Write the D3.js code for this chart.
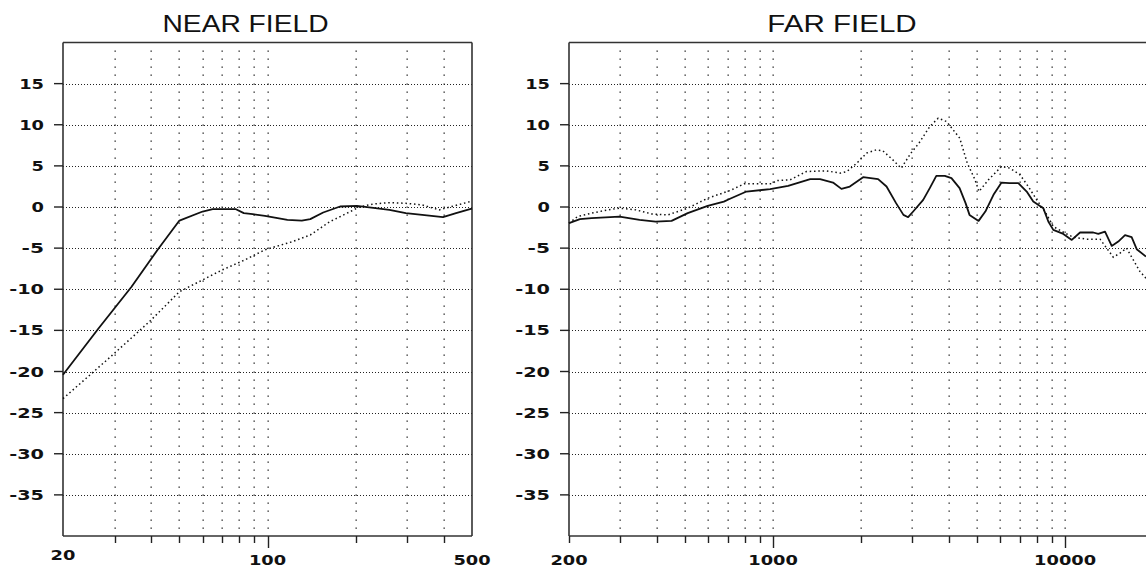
<!DOCTYPE html>
<html><head><meta charset="utf-8">
<script src="https://cdn.jsdelivr.net/npm/d3@7"></script>
<style>html,body{margin:0;padding:0;background:#fff;overflow:hidden}</style>
</head><body>
<svg id="chart" width="1146" height="567"></svg>
<script>
// ---------- data ----------
const nearTitle = "NEAR FIELD";
const farTitle = "FAR FIELD";
const yTickValues = [15,10,5,0,-5,-10,-15,-20,-25,-30,-35];
const nearGridFreqs = [30,40,50,60,70,80,90,100,200,300,400];
const farGridFreqs = [300,400,500,600,700,800,900,1000,2000,3000,4000,5000,6000,7000,8000,9000,10000];
const nearLabelFreqs = [20,100,500];
const farLabelFreqs = [200,1000,10000];
const nearMajorTicks = [100];
const farMajorTicks = [1000,10000];

const nearSolid = [[20,-20.4],[26.4,-14.8],[34.3,-9.7],[42.3,-5.1],[50,-1.65],[60,-0.55],[65,-0.27],[78,-0.27],[83,-0.75],[89,-0.87],[98,-1.07],[117,-1.56],[131,-1.65],[140,-1.47],[155,-0.67],[177,0.06],[202,0.14],[230,-0.1],[261,-0.35],[297,-0.75],[338,-0.96],[398,-1.24],[441,-0.75],[492,-0.27],[500,-0.2]];
const nearDotted = [[20,-23.3],[24.4,-20.6],[29.3,-18.1],[39.6,-13.9],[50,-10.3],[70,-7.65],[84,-6.4],[98,-5.2],[122,-4.2],[140,-3.4],[163,-1.8],[187,-0.75],[206,0],[230,0.37],[261,0.53],[297,0.45],[338,0.25],[386,-0.35],[420,0],[492,0.65],[500,0.7]];
const farSolid = [[200,-1.97],[218,-1.48],[239,-1.36],[298,-1.16],[349,-1.56],[396,-1.77],[449,-1.69],[510,-0.75],[597,0.14],[678,0.66],[712,1.0],[811,1.88],[977,2.17],[1126,2.57],[1340,3.39],[1448,3.39],[1604,2.97],[1714,2.2],[1831,2.49],[2034,3.63],[2289,3.39],[2446,2.49],[2637,0.47],[2795,-0.96],[2900,-1.24],[3018,-0.55],[3266,0.87],[3440,2.29],[3622,3.79],[3872,3.79],[4081,3.51],[4352,2.29],[4562,0.47],[4706,-0.96],[5055,-1.69],[5332,-0.55],[5685,1.48],[6059,2.97],[6445,2.9],[6915,2.9],[7387,1.88],[7780,0.66],[8420,-0.14],[8760,-1.77],[9112,-2.78],[9860,-3.27],[10540,-4.0],[11250,-3.1],[12490,-3.1],[12990,-3.27],[13700,-2.99],[14440,-4.73],[15210,-4.2],[16040,-3.43],[16900,-3.67],[17590,-5.13],[18920,-6.02]];
const farDotted = [[200,-1.97],[214,-1.16],[239,-0.75],[272,-0.35],[298,-0.14],[339,-0.35],[384,-0.84],[436,-0.96],[510,-0.14],[597,1.07],[712,2.0],[797,2.82],[989,2.82],[1029,3.22],[1143,3.3],[1300,4.31],[1520,4.4],[1696,4.12],[1789,4.31],[1935,5.33],[2090,6.55],[2257,6.95],[2376,6.83],[2571,5.73],[2746,4.72],[2965,6.55],[3160,7.77],[3440,9.78],[3676,10.8],[3924,10.4],[4357,8.37],[4624,5.33],[4917,3.3],[5071,1.88],[5460,3.3],[6059,4.92],[6476,4.72],[7008,3.91],[7482,2.49],[7994,0.87],[8534,-0.55],[9112,-2.37],[9990,-3.18],[10670,-3.67],[11860,-3.91],[13170,-3.91],[13880,-5.0],[14620,-6.1],[15420,-5.61],[16230,-5.0],[17120,-6.43],[18050,-7.85],[18920,-8.66]];

// ---------- drawing ----------
const svg = d3.select("#chart");
const y = d3.scaleLinear().domain([-40,20]).range([536,42.5]);
const labelFont = "'DejaVu Sans', sans-serif";

function textLen(s){ let w=0; for(const c of s){ w += (c==='-') ? 10 : 12.4; } return w; }

function panel(opts){
  const {x, title, titleX, gridFreqs, labelFreqs, majorTicks, series, leftTickAt, drawRight} = opts;
  const [x0,x1] = x.range();
  const g = svg.append("g");

  // horizontal dotted grid
  g.selectAll(".hg").data(yTickValues).join("line")
    .attr("x1", x0).attr("x2", Math.min(x1, 1146))
    .attr("y1", d=>Math.round(y(d))+0.5).attr("y2", d=>Math.round(y(d))+0.5)
    .attr("stroke","#222").attr("stroke-width",1).attr("stroke-dasharray","1,2");

  // vertical dotted grid: a dot at every 1 dB
  const dbLevels = d3.range(-39,20);
  const dots = [];
  gridFreqs.forEach(f=>dbLevels.forEach(v=>dots.push([f,v])));
  g.selectAll(".vd").data(dots).join("rect")
    .attr("x", d=>Math.round(x(d[0]))-0.5).attr("y", d=>Math.round(y(d[1]))-0.5)
    .attr("width",1.3).attr("height",1.3).attr("fill","#222");

  // frame
  const fr = g.append("g").attr("stroke","#333").attr("stroke-width",1.6).attr("fill","none");
  fr.append("line").attr("x1",x0).attr("x2",x0).attr("y1",y(20)).attr("y2",y(-40));
  fr.append("line").attr("x1",x0).attr("x2",x1).attr("y1",y(20)).attr("y2",y(20));
  fr.append("line").attr("x1",x0).attr("x2",x1).attr("y1",y(-40)).attr("y2",y(-40));
  if(drawRight) fr.append("line").attr("x1",x1).attr("x2",x1).attr("y1",y(20)).attr("y2",y(-40));

  // y ticks + labels
  g.selectAll(".yt").data(yTickValues).join("line")
    .attr("x1",x0-9).attr("x2",x0).attr("y1",d=>y(d)).attr("y2",d=>y(d))
    .attr("stroke","#222").attr("stroke-width",1.4);
  g.selectAll(".yl").data(yTickValues).join("text")
    .attr("x",x0-19).attr("y",d=>y(d)+5)
    .attr("text-anchor","end").attr("font-family",labelFont).attr("font-weight","bold")
    .attr("font-size","13.5px").attr("fill","#111")
    .attr("textLength",d=>textLen(String(d))).attr("lengthAdjust","spacingAndGlyphs")
    .text(d=>String(d));

  // x ticks (below axis)
  const tickFreqs = (leftTickAt ? [x.domain()[0]] : []).concat(gridFreqs);
  g.selectAll(".xt").data(tickFreqs).join("line")
    .attr("x1",d=>Math.round(x(d))+0.5).attr("x2",d=>Math.round(x(d))+0.5)
    .attr("y1",y(-40)).attr("y2",d=>y(-40)+(majorTicks.includes(d)?12:7))
    .attr("stroke","#222").attr("stroke-width",1.4);

  // x labels
  g.selectAll(".xl").data(labelFreqs).join("text")
    .attr("x",d=>x(d)).attr("y",(d,i)=> (i===0 && !leftTickAt) ? 560 : 565)
    .attr("text-anchor","middle").attr("font-family",labelFont).attr("font-weight","bold")
    .attr("font-size","13.5px").attr("fill","#111")
    .attr("textLength",d=>textLen(String(d))).attr("lengthAdjust","spacingAndGlyphs")
    .text(d=>String(d));

  // title
  g.append("text").attr("x",titleX).attr("y",32).attr("text-anchor","middle")
    .attr("font-family","'Liberation Sans', Arial, sans-serif").attr("font-size","23px")
    .attr("fill","#111").attr("textLength", title.length*16.6).attr("lengthAdjust","spacingAndGlyphs")
    .text(title);

  // curves
  const line = d3.line().x(d=>x(d[0])).y(d=>y(d[1])).curve(d3.curveLinear);
  g.append("path").datum(series.solid).attr("d",line)
    .attr("fill","none").attr("stroke","#111").attr("stroke-width",1.8).attr("stroke-linejoin","round");
  g.append("path").datum(series.dotted).attr("d",line)
    .attr("fill","none").attr("stroke","#111").attr("stroke-width",1.5).attr("stroke-dasharray","1.5,2.8");
}

const xNear = d3.scaleLog().domain([20,500]).range([63,472]);
const xFar = d3.scaleLog().domain([200,20000]).range([569,1153]);

panel({x:xNear, title:nearTitle, titleX:245.5, gridFreqs:nearGridFreqs, labelFreqs:nearLabelFreqs,
  majorTicks:nearMajorTicks, series:{solid:nearSolid, dotted:nearDotted}, leftTickAt:false, drawRight:true});
panel({x:xFar, title:farTitle, titleX:842, gridFreqs:farGridFreqs, labelFreqs:farLabelFreqs,
  majorTicks:farMajorTicks, series:{solid:farSolid, dotted:farDotted}, leftTickAt:true, drawRight:true});
</script>
</body></html>
